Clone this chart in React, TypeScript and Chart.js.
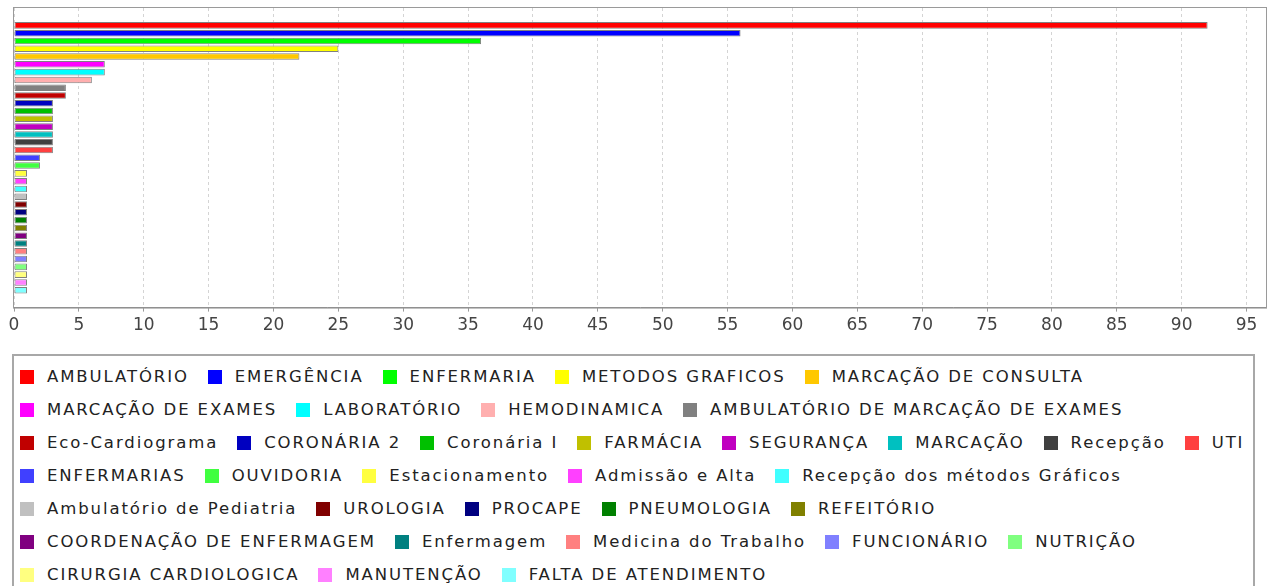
import React, { useEffect, useRef } from "react";
import { Chart, registerables } from "chart.js";

Chart.register(...registerables);

const categoryLabels = [""];

const seriesNames = [
  "AMBULATÓRIO",
  "EMERGÊNCIA",
  "ENFERMARIA",
  "METODOS GRAFICOS",
  "MARCAÇÃO DE CONSULTA",
  "MARCAÇÃO DE EXAMES",
  "LABORATÓRIO",
  "HEMODINAMICA",
  "AMBULATÓRIO DE MARCAÇÃO DE EXAMES",
  "Eco-Cardiograma",
  "CORONÁRIA 2",
  "Coronária I",
  "FARMÁCIA",
  "SEGURANÇA",
  "MARCAÇÃO",
  "Recepção",
  "UTI",
  "ENFERMARIAS",
  "OUVIDORIA",
  "Estacionamento",
  "Admissão e Alta",
  "Recepção dos métodos Gráficos",
  "Ambulatório de Pediatria",
  "UROLOGIA",
  "PROCAPE",
  "PNEUMOLOGIA",
  "REFEITÓRIO",
  "COORDENAÇÃO DE ENFERMAGEM",
  "Enfermagem",
  "Medicina do Trabalho",
  "FUNCIONÁRIO",
  "NUTRIÇÃO",
  "CIRURGIA CARDIOLOGICA",
  "MANUTENÇÃO",
  "FALTA DE ATENDIMENTO",
];

const seriesValues = [
  92, 56, 36, 25, 22, 7, 7, 6, 4, 4, 3, 3, 3, 3, 3, 3, 3, 2, 2,
  1, 1, 1, 1, 1, 1, 1, 1, 1, 1, 1, 1, 1, 1, 1, 1,
];

const seriesColors = [
  "#FF0000", "#0000FF", "#00FF00", "#FFFF00", "#FFC800", "#FF00FF", "#00FFFF",
  "#FFAFAF", "#808080", "#C00000", "#0000C0", "#00C000", "#C0C000", "#C000C0",
  "#00C0C0", "#404040", "#FF4040", "#4040FF", "#40FF40", "#FFFF40", "#FF40FF",
  "#40FFFF", "#C0C0C0", "#800000", "#000080", "#008000", "#808000", "#800080",
  "#008080", "#FF8080", "#8080FF", "#80FF80", "#FFFF80", "#FF80FF", "#80FFFF",
];

const xTickValues = [0, 5, 10, 15, 20, 25, 30, 35, 40, 45, 50, 55, 60, 65, 70, 75, 80, 85, 90, 95];
const xMin = 0;
const xMax = 96.5;

const FONT = "'DejaVu Sans', 'Noto Sans', sans-serif";

export default function App() {
  const canvasRef = useRef<HTMLCanvasElement>(null);

  useEffect(() => {
    const canvas = canvasRef.current;
    if (!canvas) return;

    const plotFrame = {
      id: "plotFrame",
      afterDraw(chart: any) {
        const { ctx, chartArea } = chart;
        ctx.save();
        ctx.strokeStyle = "#9a9a9a";
        ctx.lineWidth = 1;
        ctx.strokeRect(
          chartArea.left - 0.5,
          chartArea.top - 0.5,
          chartArea.right - chartArea.left + 1,
          chartArea.bottom - chartArea.top + 1
        );
        ctx.restore();
      },
    };

    const chart = new Chart(canvas, {
      type: "bar",
      data: {
        labels: categoryLabels,
        datasets: seriesNames.map((name, i) => ({
          label: name,
          data: [seriesValues[i]],
          backgroundColor: seriesColors[i],
          borderColor: "#808080",
          borderWidth: 1,
          borderSkipped: false,
          categoryPercentage: 0.91,
          barPercentage: 0.84,
        })),
      },
      options: {
        indexAxis: "y",
        animation: false,
        responsive: false,
        maintainAspectRatio: false,
        devicePixelRatio: 1,
        layout: { padding: { left: 14, right: 1, top: 8, bottom: 0 } },
        plugins: {
          legend: { display: false },
          tooltip: { enabled: false },
        },
        scales: {
          x: {
            type: "linear",
            min: xMin,
            max: xMax,
            afterBuildTicks: (axis: any) => {
              axis.ticks = xTickValues.map((v) => ({ value: v }));
            },
            ticks: {
              color: "#444444",
              padding: 4,
              maxRotation: 0,
              autoSkip: false,
              font: { family: FONT, size: 17 },
            },
            grid: {
              color: "#d4d4d4",
              lineWidth: 1,
              tickLength: 4,
              tickColor: "#9a9a9a",
              tickBorderDash: [],
            },
            border: { display: true, color: "#8a8a8a", width: 1, dash: [3, 3] },
          },
          y: {
            type: "category",
            display: false,
          },
        },
      },
      plugins: [plotFrame],
    });

    return () => chart.destroy();
  }, []);

  return (
    <div
      style={{
        position: "fixed",
        left: 0,
        top: 0,
        width: 1267,
        height: 586,
        overflow: "hidden",
        background: "#ffffff",
      }}
    >
      <canvas
        ref={canvasRef}
        width={1267}
        height={340}
        style={{ position: "absolute", left: 0, top: 0, width: 1267, height: 340, display: "block" }}
      />
      <div
        style={{
          position: "absolute",
          left: 12,
          top: 354,
          width: 1243,
          height: 250,
          boxSizing: "border-box",
          border: "2px solid #a8a8a8",
          padding: "4px 0 0 6px",
          display: "flex",
          flexWrap: "wrap",
          alignContent: "flex-start",
          columnGap: 19,
          fontFamily: FONT,
          fontSize: 16.5,
          letterSpacing: "1.9px",
          color: "#222222",
        }}
      >
        {seriesNames.map((name, i) => (
          <div
            key={name}
            style={{
              display: "flex",
              alignItems: "center",
              height: 33,
              whiteSpace: "nowrap",
            }}
          >
            <span
              style={{
                display: "inline-block",
                width: 14,
                height: 14,
                background: seriesColors[i],
                marginRight: 13,
              }}
            />
            <span>{name}</span>
          </div>
        ))}
      </div>
    </div>
  );
}
